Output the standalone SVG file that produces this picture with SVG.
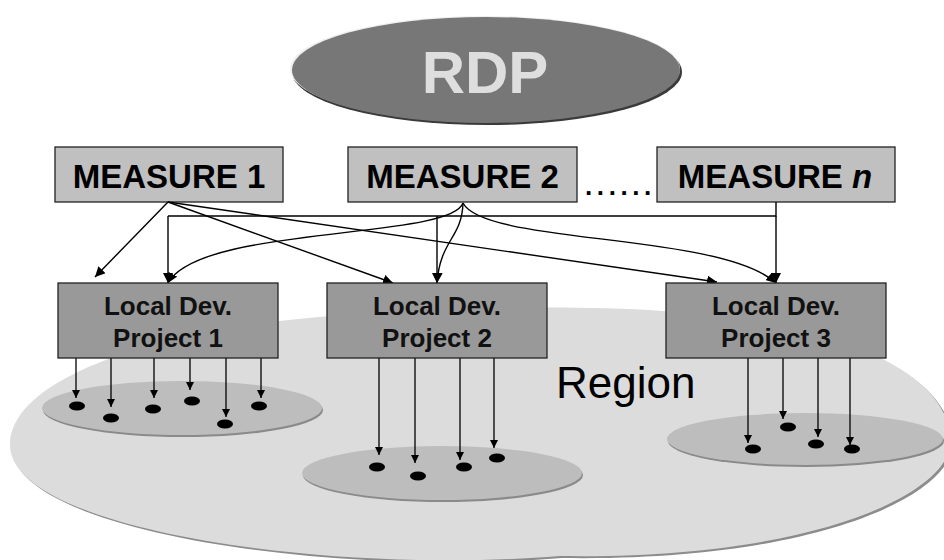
<svg xmlns="http://www.w3.org/2000/svg" width="944" height="560" viewBox="0 0 944 560">
  <defs>
    <style>
      .measure { fill: #c0c0c0; stroke: #222; stroke-width: 1.3; }
      .project { fill: #999999; stroke: #222; stroke-width: 1.3; }
      .mtext { font-family: "Liberation Sans", Arial, sans-serif; font-weight: bold; font-size: 33px; fill: #000; text-anchor: middle; }
      .ptext { font-family: "Liberation Sans", Arial, sans-serif; font-weight: bold; font-size: 26px; fill: #111; text-anchor: middle; }
      .conn { fill: none; stroke: #000; stroke-width: 1.4; }
      .drop { fill: none; stroke: #000; stroke-width: 1.3; }
      .area { fill: #bdbdbd; }
      .areashadow { fill: #8a8a8a; }
      .site { fill: #000; }
    </style>
    <marker id="arrow" viewBox="0 0 10 10" refX="10" refY="5" markerWidth="10" markerHeight="10" markerUnits="userSpaceOnUse" orient="auto">
      <path d="M0,0 L10,5 L0,10 Z" fill="#000"/>
    </marker>
    <marker id="arrowSmall" viewBox="0 0 10 10" refX="10" refY="5" markerWidth="8" markerHeight="8" markerUnits="userSpaceOnUse" orient="auto">
      <path d="M0,0 L10,5 L0,10 Z" fill="#000"/>
    </marker>
  </defs>

  <rect width="944" height="560" fill="#ffffff"/>

  <!-- Region background -->
  <g id="region">
    <path transform="translate(2,2)" fill="#8c8c8c" d="M10,445 C10,380 150,330 330,316 C500,304 700,300 820,335 C900,358 950,395 950,440 C955,490 820,560 560,556 C330,575 10,530 10,445 Z"/>
    <path fill="#dcdcdc" d="M10,445 C10,380 150,330 330,316 C500,304 700,300 820,335 C900,358 950,395 950,440 C955,490 820,560 560,556 C330,575 10,530 10,445 Z"/>
    <text x="556" y="398" font-family="Liberation Sans, Arial, sans-serif" font-size="44" fill="#000">Region</text>
  </g>

  <!-- Local areas -->
  <g id="area1">
    <ellipse class="areashadow" cx="183" cy="410" rx="140" ry="27"/>
    <ellipse class="area" cx="182" cy="408" rx="140" ry="27"/>
  </g>
  <g id="area2">
    <ellipse class="areashadow" cx="443" cy="475" rx="140" ry="27"/>
    <ellipse class="area" cx="442" cy="473" rx="140" ry="27"/>
  </g>
  <g id="area3">
    <ellipse class="areashadow" cx="806" cy="441" rx="138" ry="26"/>
    <ellipse class="area" cx="805" cy="439" rx="138" ry="26"/>
  </g>

  <!-- Sites in each area -->
  <g id="sites">
    <ellipse class="site" cx="77" cy="406" rx="8" ry="4.5"/>
    <ellipse class="site" cx="111" cy="418" rx="8" ry="4.5"/>
    <ellipse class="site" cx="153" cy="409" rx="8" ry="4.5"/>
    <ellipse class="site" cx="192" cy="401" rx="8" ry="4.5"/>
    <ellipse class="site" cx="225" cy="424" rx="8" ry="4.5"/>
    <ellipse class="site" cx="259" cy="406" rx="8" ry="4.5"/>

    <ellipse class="site" cx="377" cy="467" rx="8" ry="4.5"/>
    <ellipse class="site" cx="418" cy="476" rx="8" ry="4.5"/>
    <ellipse class="site" cx="464" cy="467" rx="8" ry="4.5"/>
    <ellipse class="site" cx="497" cy="458" rx="8" ry="4.5"/>

    <ellipse class="site" cx="753" cy="449" rx="8" ry="4.5"/>
    <ellipse class="site" cx="788" cy="427" rx="8" ry="4.5"/>
    <ellipse class="site" cx="816" cy="444" rx="8" ry="4.5"/>
    <ellipse class="site" cx="852" cy="449" rx="8" ry="4.5"/>
  </g>

  <!-- RDP -->
  <g id="rdp">
    <ellipse cx="487" cy="72" rx="195" ry="53" fill="#3a3a3a"/>
    <ellipse cx="485" cy="69" rx="195" ry="53" fill="#efefef"/>
    <ellipse cx="486" cy="70" rx="194" ry="53" fill="#777777"/>
    <text x="485" y="93" font-family="Liberation Sans, Arial, sans-serif" font-weight="bold" font-size="60" fill="#dedede" text-anchor="middle">RDP</text>
  </g>

  <!-- Measures -->
  <g id="measure1">
    <rect class="measure" x="55" y="147" width="228" height="55"/>
    <text class="mtext" x="169" y="188">MEASURE 1</text>
  </g>
  <g id="measure2">
    <rect class="measure" x="348" y="147" width="229" height="55"/>
    <text class="mtext" x="462.5" y="188">MEASURE 2</text>
  </g>
  <text id="ellipsis" x="585" y="195" font-family="Liberation Sans, Arial, sans-serif" font-weight="bold" font-size="26" letter-spacing="4.6" fill="#000">......</text>
  <g id="measureN">
    <rect class="measure" x="657" y="147" width="238" height="55"/>
    <text class="mtext" x="775" y="188">MEASURE <tspan font-style="italic">n</tspan></text>
  </g>

  <!-- Connectors -->
  <g id="connectors">
    <!-- from MEASURE 1 -->
    <path class="conn" marker-end="url(#arrow)" d="M168,202 L95,277"/>
    <path class="conn" marker-end="url(#arrow)" d="M168,202 L393,283"/>
    <path class="conn" marker-end="url(#arrow)" d="M168,202 L717,282"/>
    <!-- bus from MEASURE n -->
    <path class="conn" d="M776,202 L776,216 L168,216"/>
    <path class="conn" marker-end="url(#arrow)" d="M168,216 L168,283"/>
    <path class="conn" marker-end="url(#arrow)" d="M437,216 L437,283"/>
    <path class="conn" marker-end="url(#arrow)" d="M776,216 L776,283"/>
    <!-- from MEASURE 2 -->
    <path class="conn" marker-end="url(#arrow)" d="M463,203 C450,240 200,225 168,283"/>
    <path class="conn" marker-end="url(#arrow)" d="M463,203 C462,238 440,240 437,283"/>
    <path class="conn" marker-end="url(#arrow)" d="M463,203 C485,245 720,232 776,283"/>

    <!-- project 1 to sites -->
    <path class="drop" marker-end="url(#arrowSmall)" d="M76,358 L76,398"/>
    <path class="drop" marker-end="url(#arrowSmall)" d="M111,358 L111,407"/>
    <path class="drop" marker-end="url(#arrowSmall)" d="M154,358 L154,398"/>
    <path class="drop" marker-end="url(#arrowSmall)" d="M190,358 L190,390"/>
    <path class="drop" marker-end="url(#arrowSmall)" d="M226,358 L226,417"/>
    <path class="drop" marker-end="url(#arrowSmall)" d="M261,358 L261,398"/>
    <!-- project 2 to sites -->
    <path class="drop" marker-end="url(#arrowSmall)" d="M379,358 L379,455"/>
    <path class="drop" marker-end="url(#arrowSmall)" d="M415,358 L415,463"/>
    <path class="drop" marker-end="url(#arrowSmall)" d="M460,358 L460,460"/>
    <path class="drop" marker-end="url(#arrowSmall)" d="M494,358 L494,448"/>
    <!-- project 3 to sites -->
    <path class="drop" marker-end="url(#arrowSmall)" d="M748,358 L748,443"/>
    <path class="drop" marker-end="url(#arrowSmall)" d="M783,358 L783,419"/>
    <path class="drop" marker-end="url(#arrowSmall)" d="M818,358 L818,437"/>
    <path class="drop" marker-end="url(#arrowSmall)" d="M850,358 L850,445"/>
  </g>

  <!-- Local development projects -->
  <g id="project1">
    <rect class="project" x="58" y="283" width="220" height="75"/>
    <text class="ptext" x="168" y="315">Local Dev.</text>
    <text class="ptext" x="168" y="347">Project 1</text>
  </g>
  <g id="project2">
    <rect class="project" x="327" y="283" width="220" height="75"/>
    <text class="ptext" x="437" y="315">Local Dev.</text>
    <text class="ptext" x="437" y="347">Project 2</text>
  </g>
  <g id="project3">
    <rect class="project" x="666" y="283" width="220" height="75"/>
    <text class="ptext" x="776" y="315">Local Dev.</text>
    <text class="ptext" x="776" y="347">Project 3</text>
  </g>
</svg>
